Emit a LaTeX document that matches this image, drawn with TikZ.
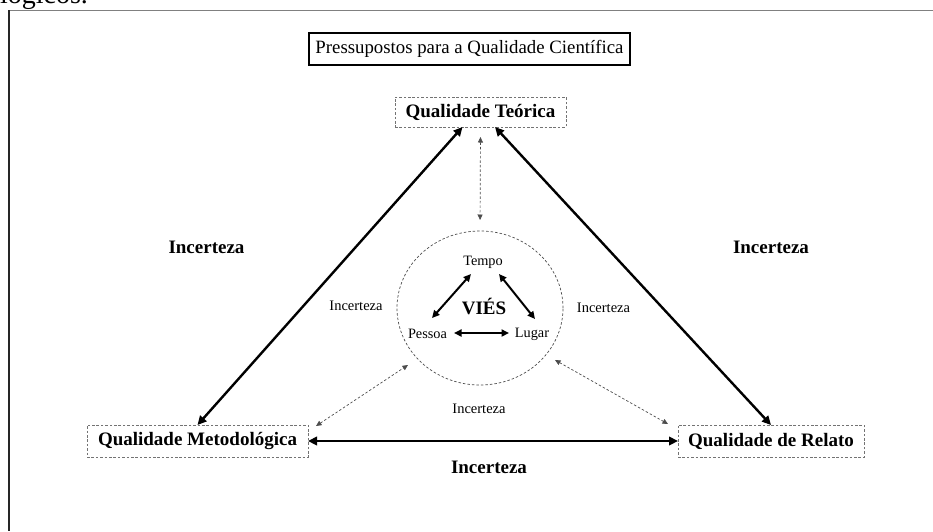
\documentclass[tikz,border=0pt]{standalone}
\usepackage{fontspec}
\setmainfont{Liberation Serif}
\usetikzlibrary{arrows.meta,calc,shapes.geometric}
\begin{document}
\begin{tikzpicture}[x=1pt,y=-1pt,
  every node/.style={inner sep=0pt,outer sep=0pt},
  qualbox/.style={draw=black!55,dash pattern=on 2.6pt off 1.8pt,line width=0.9pt,
    font=\fontsize{19}{22}\selectfont\bfseries,minimum height=31pt},
  bigword/.style={font=\fontsize{19}{22}\selectfont\bfseries},
  smallword/.style={font=\fontsize{14.5}{17}\selectfont},
  inword/.style={font=\fontsize{14.3}{17}\selectfont},
  thick link/.style={line width=2.4pt,{Triangle[length=9pt,width=8.5pt]}-{Triangle[length=9pt,width=8.5pt]}},
  inner link/.style={line width=2pt,{Triangle[length=7.5pt,width=7pt]}-{Triangle[length=7.5pt,width=7pt]}},
  faint link/.style={draw=black!70,line width=0.7pt,dash pattern=on 2.5pt off 2pt,
    {Triangle[length=5.5pt,width=5pt]}-{Triangle[length=5.5pt,width=5pt]}},
]
\useasboundingbox (0,0) rectangle (933,531);
\begin{scope}
  \clip (0,0) rectangle (933,531);
  % tail of the preceding paragraph
  \node[anchor=base west,font=\fontsize{28}{30}\selectfont] (para) at (0,3) {lógicos.};
  % page frame
  \draw[black!50,line width=1pt] (9,10) -- (933,10);
  \draw[black!85,line width=1.3pt] (9,10) -- (9,531);
\end{scope}

% title
\node[draw,line width=2pt,minimum width=321pt,minimum height=32pt,
  font=\fontsize{18.8}{22}\selectfont] (title) at (469.5,49) {Pressupostos para a Qualidade Científica};

% three qualities
\node[qualbox,minimum width=171pt,minimum height=30pt] (teo) at (480.5,112) {Qualidade Teórica};
\node[qualbox,minimum width=221pt,minimum height=32pt] (met) at (197.5,441) {Qualidade Metodológica};
\node[qualbox,minimum width=186pt,minimum height=32pt] (rel) at (771,441) {Qualidade de Relato};

% bias circle
\node[ellipse,draw=black!70,line width=0.7pt,dash pattern=on 2.5pt off 2pt,
  minimum width=166pt,minimum height=154pt] (bias) at (480,308) {};
\node[inword] (tempo) at (483,262) {Tempo};
\node[inword] (pessoa) at (427.5,334) {Pessoa};
\node[inword] (lugar) at (532,334) {Lugar};
\node[bigword] (vies) at (484,306) {VIÉS};

% uncertainty labels
\node[bigword] (incL) at (206.5,247) {Incerteza};
\node[bigword] (incR) at (771,247) {Incerteza};
\node[bigword] (incB) at (489,467) {Incerteza};
\node[smallword] (incl) at (356,306) {Incerteza};
\node[smallword] (incr) at (603.5,308) {Incerteza};
\node[smallword] (incb) at (479,409) {Incerteza};

% main triangle
\draw[thick link] ([xshift=-18pt]teo.south) -- (met.north);
\draw[thick link] ([xshift=14.5pt]teo.south) -- (rel.north);
\draw[thick link] (met.east) -- (rel.west);

% links to the bias circle
\coordinate (mA) at (316,426);
\coordinate (mB) at (408,365);
\coordinate (rA) at (555,360);
\coordinate (rB) at (668,424);
\draw[faint link,shorten <=10pt,shorten >=11pt] (teo.south) -- (bias.north);
\draw[faint link] (mA) -- (mB);
\draw[faint link] (rA) -- (rB);

% inner triangle
\draw[inner link] ($(tempo)+(-12,12)$) -- ($(pessoa)+(4.5,-16)$);
\draw[inner link] ($(tempo)+(16,12)$) -- ($(lugar)+(3,-15)$);
\draw[inner link] ($(pessoa)+(26.5,-1)$) -- ($(lugar)+(-23,-1)$);
\end{tikzpicture}
\end{document}
